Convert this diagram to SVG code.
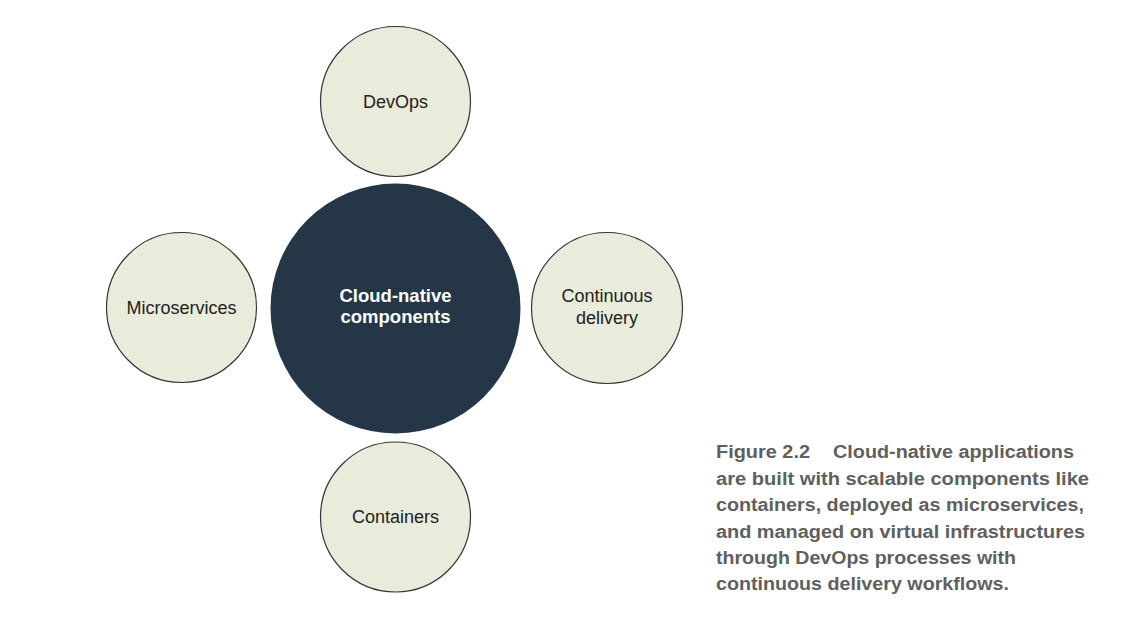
<svg xmlns="http://www.w3.org/2000/svg" width="1144" height="625" viewBox="0 0 1144 625">
<style>
.sat{fill:#e9ebdb;stroke:#333;stroke-width:1.2}
.hub{fill:#253746}
.lbl{font-family:"Liberation Sans",Arial,sans-serif;font-size:18px;fill:#222;text-anchor:middle}
.hubl{font-family:"Liberation Sans",Arial,sans-serif;font-size:18.5px;font-weight:bold;fill:#fff;text-anchor:middle}
.cap{font-family:"Liberation Sans",Arial,sans-serif;font-size:17.5px;font-weight:bold;fill:#5f5f5f}
</style>
<rect width="1144" height="625" fill="#fff"/>
<g id="connectors"></g>
<g id="devops"><circle class="sat" cx="395.5" cy="101.5" r="75"/><text class="lbl" x="395.5" y="108">DevOps</text></g>
<g id="hub"><circle class="hub" cx="395.5" cy="308.5" r="125"/><text class="hubl" x="395.5" y="302">Cloud-native</text><text class="hubl" x="395.5" y="323">components</text></g>
<g id="microservices"><circle class="sat" cx="181.5" cy="307.5" r="75"/><text class="lbl" x="181.5" y="314">Microservices</text></g>
<g id="cd"><circle class="sat" cx="607" cy="308" r="75.5"/><text class="lbl" x="607" y="302">Continuous</text><text class="lbl" x="607" y="324">delivery</text></g>
<g id="containers"><circle class="sat" cx="395.5" cy="517" r="75"/><text class="lbl" x="395.5" y="523">Containers</text></g>
<g id="caption">
<text class="cap" x="716" y="458" textLength="94" lengthAdjust="spacingAndGlyphs">Figure 2.2</text>
<text class="cap" x="833" y="458" textLength="241" lengthAdjust="spacingAndGlyphs">Cloud-native applications</text>
<text class="cap" x="716" y="485" textLength="373" lengthAdjust="spacingAndGlyphs">are built with scalable components like</text>
<text class="cap" x="716" y="511" textLength="368" lengthAdjust="spacingAndGlyphs">containers, deployed as microservices,</text>
<text class="cap" x="716" y="538" textLength="369" lengthAdjust="spacingAndGlyphs">and managed on virtual infrastructures</text>
<text class="cap" x="716" y="564" textLength="300" lengthAdjust="spacingAndGlyphs">through DevOps processes with</text>
<text class="cap" x="716" y="590" textLength="293" lengthAdjust="spacingAndGlyphs">continuous delivery workflows.</text>
</g>
</svg>
